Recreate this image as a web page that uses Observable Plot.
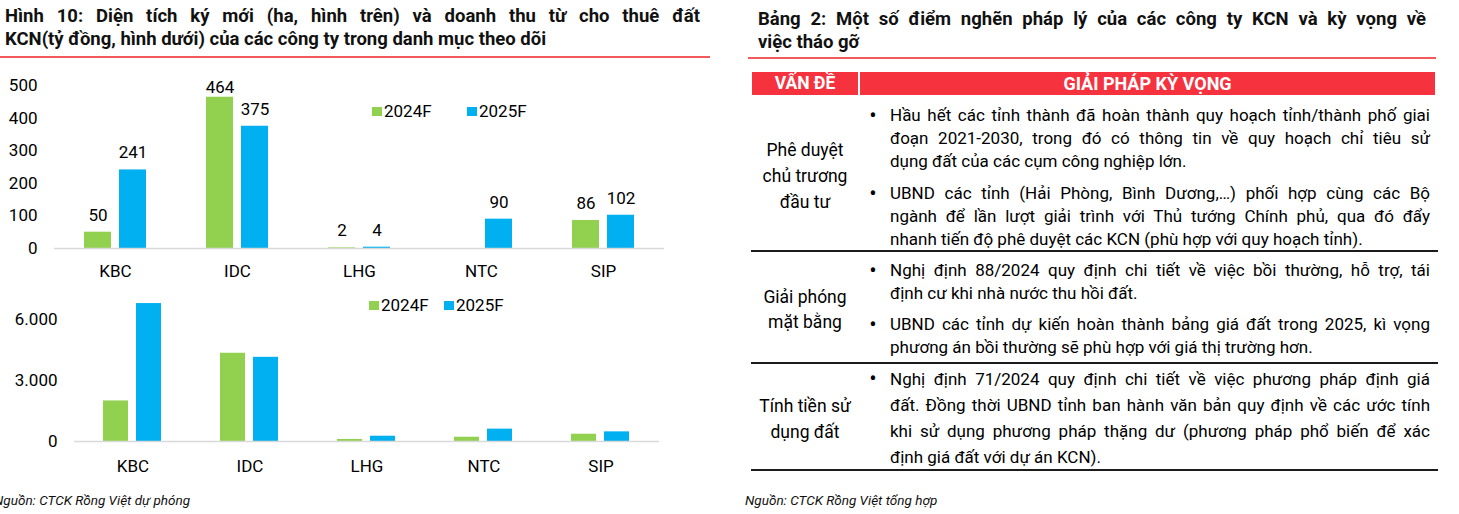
<!DOCTYPE html>
<html><head><meta charset="utf-8">
<script src="https://cdn.jsdelivr.net/npm/d3@7"></script>
<script src="https://cdn.jsdelivr.net/npm/@observablehq/plot@0.6"></script>
<style>
body{margin:0;background:#fff;font-family:Roboto,"Open Sans",sans-serif;color:#000;}
#root{position:relative;width:1459px;height:514px;overflow:hidden;background:#fff;}
.abs{position:absolute;}
.title{font-weight:700;font-size:18.5px;line-height:23px;color:#111;}
.jl{text-align:justify;text-align-last:justify;}
.rule{position:absolute;height:2px;background:#F15B5B;}
.hdr{position:absolute;top:72px;height:23px;background:#F7323F;color:#fff;font-weight:700;font-size:17.5px;line-height:23px;text-align:center;}
.row{position:absolute;left:751px;width:687px;height:2px;background:#1c1c1c;}
.issue{position:absolute;left:752px;width:106px;text-align:center;font-size:17.5px;}
.blk{position:absolute;left:890px;width:540px;font-size:17px;}
.bul{position:absolute;left:864px;width:18px;text-align:center;font-size:22px;}
.leg{position:absolute;font-size:17px;line-height:20px;}
.sq{position:absolute;width:10px;height:9px;}
.src{position:absolute;font-style:italic;font-size:13.5px;color:#111;}
</style></head>
<body><div id="root">
<div class="abs title" style="left:5px;top:5px;width:695px;">
  <div class="jl fit">Hình 10: Diện tích ký mới (ha, hình trên) và doanh thu từ cho thuê đất</div>
  <div>KCN(tỷ đồng, hình dưới) của các công ty trong danh mục theo dõi</div>
</div>
<div class="rule" style="left:0;top:56px;width:710px;"></div>
<div class="abs title" style="left:758px;top:8px;width:668px;">
  <div class="jl fit">Bảng 2: Một số điểm nghẽn pháp lý của các công ty KCN và kỳ vọng về</div>
  <div>việc tháo gỡ</div>
</div>
<div class="rule" style="left:748px;top:57px;width:688px;"></div>
<div id="top" class="abs" style="left:0;top:60px;"></div>
<div id="bot" class="abs" style="left:0;top:285px;"></div>
<div id="leg1"></div><div id="leg2"></div>
<div id="table"></div>
<div class="src" style="left:-6px;top:492px;">Nguồn: CTCK Rồng Việt dự phóng</div>
<div class="src" style="left:745px;top:492px;">Nguồn: CTCK Rồng Việt tổng hợp</div>
</div>
<script>
// ---- data ----
const companies = ["KBC", "IDC", "LHG", "NTC", "SIP"];
const series = ["2024F", "2025F"];
const area2024 = [50, 464, 2, null, 86];      // ha
const area2025 = [241, 375, 4, 90, 102];
const rev2024 = [2000, 4350, 100, 210, 360];  // tỷ đồng
const rev2025 = [6800, 4150, 260, 610, 475];
const colors = ["#92D050", "#00B0F0"];
const topTicks = [0, 100, 200, 300, 400, 500];
const botTicks = [0, 3000, 6000];

const issues = [["Phê duyệt", "chủ trương", "đầu tư"], ["Giải phóng", "mặt bằng"], ["Tính tiền sử", "dụng đất"]];
const solutions = [
  [["Hầu hết các tỉnh thành đã hoàn thành quy hoạch tỉnh/thành phố giai", "đoạn 2021-2030, trong đó có thông tin về quy hoạch chỉ tiêu sử", "dụng đất của các cụm công nghiệp lớn."],
   ["UBND các tỉnh (Hải Phòng, Bình Dương,…) phối hợp cùng các Bộ", "ngành để lần lượt giải trình với Thủ tướng Chính phủ, qua đó đẩy", "nhanh tiến độ phê duyệt các KCN (phù hợp với quy hoạch tỉnh)."]],
  [["Nghị định 88/2024 quy định chi tiết về việc bồi thường, hỗ trợ, tái", "định cư khi nhà nước thu hồi đất."],
   ["UBND các tỉnh dự kiến hoàn thành bảng giá đất trong 2025, kì vọng", "phương án bồi thường sẽ phù hợp với giá thị trường hơn."]],
  [["Nghị định 71/2024 quy định chi tiết về việc phương pháp định giá", "đất. Đồng thời UBND tỉnh ban hành văn bản quy định về các ước tính", "khi sử dụng phương pháp thặng dư (phương pháp phổ biến để xác", "định giá đất với dự án KCN)."]]
];

function rows(a, b) {
  const out = [];
  companies.forEach((c, i) => {
    if (a[i] != null) out.push({company: c, series: series[0], value: a[i]});
    if (b[i] != null) out.push({company: c, series: series[1], value: b[i]});
  });
  return out;
}
const areaData = rows(area2024, area2025);
const revData = rows(rev2024, rev2025);
const font = "Roboto, 'Open Sans', sans-serif";
const numFmt = d => d3.format(",")(d).replace(/,/g, ".");

// top chart
const topMax = 500;
const topPlot = Plot.plot({
  width: 700, height: 225,
  marginLeft: 52, marginRight: 34, marginTop: 25, marginBottom: 37,
  style: {fontFamily: font, fontSize: "17px", color: "#000", background: "transparent", overflow: "visible"},
  fx: {domain: companies, padding: 0, label: null, axis: "bottom", tickSize: 0, tickPadding: 16},
  x: {domain: series, paddingInner: 0.2222, paddingOuter: 0.8194, axis: null},
  y: {domain: [0, topMax], ticks: topTicks, label: null, tickSize: 0, tickPadding: 17},
  color: {domain: series, range: colors},
  marks: [
    Plot.barY(areaData, {fx: "company", x: "series", y: "value", fill: "series"}),
    Plot.ruleY([0], {stroke: "#d9d9d9", strokeWidth: 1.5}),
    // Excel keeps the data labels inside the plot area
    Plot.text(areaData, {fx: "company", x: "series", y: d => Math.min(d.value, topMax * 0.884), text: "value", dy: -17, fontSize: 17, fill: "#000"})
  ]
});
document.getElementById("top").appendChild(topPlot);

const botPlot = Plot.plot({
  width: 700, height: 196,
  marginLeft: 72, marginRight: 40, marginTop: 14, marginBottom: 40,
  style: {fontFamily: font, fontSize: "17px", color: "#000", background: "transparent", overflow: "visible"},
  fx: {domain: companies, padding: 0, label: null, axis: "bottom", tickSize: 0, tickPadding: 18},
  x: {domain: series, paddingInner: 0.2353, paddingOuter: 0.847, axis: null},
  y: {domain: [0, 7000], ticks: botTicks, tickFormat: numFmt, label: null, tickSize: 0, tickPadding: 17},
  color: {domain: series, range: colors},
  marks: [
    Plot.barY(revData, {fx: "company", x: "series", y: "value", fill: "series"}),
    Plot.ruleY([0], {stroke: "#d9d9d9", strokeWidth: 1.5})
  ]
});
document.getElementById("bot").appendChild(botPlot);

// legends
function legend(el, y, xs) {
  let h = "";
  series.forEach((s, i) => {
    h += `<div class="sq" style="left:${xs[i]}px;top:${y - 4.5}px;background:${colors[i]}"></div>`;
    h += `<div class="leg" style="left:${xs[i] + 12}px;top:${y - 10}px">${s}</div>`;
  });
  document.getElementById(el).innerHTML = h;
}
legend("leg1", 111, [372, 467]);
legend("leg2", 305, [369, 444]);

// table
const issueTops = [137, 284.5, 393];
const issueLH = [26, 25, 26];
const blockTops = [[103.5, 181.5], [258.5, 312.5], [366]];
const blockLH = [23, 23, 26];
let t = `<div class="hdr" style="left:752px;width:106px;">VẤN ĐỀ</div>`;
t += `<div class="hdr" style="left:860px;width:575px;font-size:18px;">GIẢI PHÁP KỲ VỌNG</div>`;
issues.forEach((lines, r) => {
  t += `<div class="issue" style="top:${issueTops[r]}px;line-height:${issueLH[r]}px">${lines.join("<br>")}</div>`;
  solutions[r].forEach((blk, b) => {
    const top = blockTops[r][b], lh = blockLH[r];
    t += `<div class="bul" style="top:${top}px;line-height:${lh}px">•</div>`;
    t += `<div class="blk" style="top:${top}px;line-height:${lh}px">` +
      blk.map((l, k) => `<div class="${k < blk.length - 1 ? "jl fit" : "fit"}" style="line-height:${lh}px">${l}</div>`).join("") + `</div>`;
  });
});
[251, 363, 470].forEach(y => { t += `<div class="row" style="top:${y - 1}px"></div>`; });
document.getElementById("table").innerHTML = t;
// shrink any single line that would wrap
document.querySelectorAll(".fit").forEach(el => {
  const cs = getComputedStyle(el);
  let fs = parseFloat(cs.fontSize);
  const lh = parseFloat(cs.lineHeight);
  while (el.offsetHeight > lh + 1 && fs > 10) { fs -= 0.25; el.style.fontSize = fs + "px"; }
});
</script>
</body></html>
